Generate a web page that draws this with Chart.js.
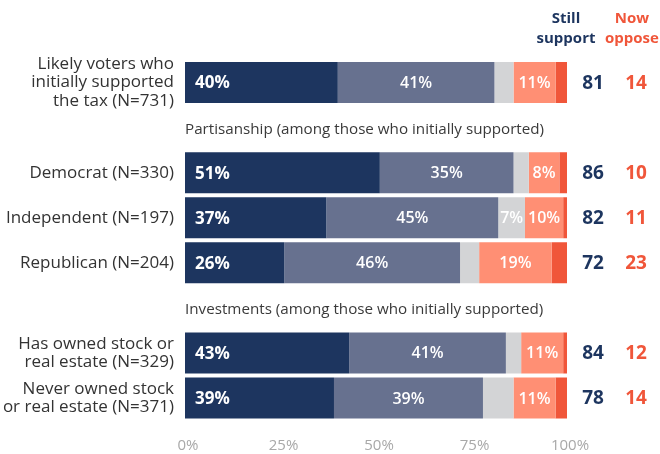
<!DOCTYPE html>
<html>
<head>
<meta charset="utf-8">
<script src="https://cdn.jsdelivr.net/npm/chart.js@4.4.1/dist/chart.umd.min.js"></script>
<style>
  html, body { margin: 0; padding: 0; background: #fff; }
  #chart { display: block; }
</style>
</head>
<body>
<canvas id="chart" width="660" height="454"></canvas>
<script>
// rows, with blank slots where the group headings sit
const categories = [
  ['Likely voters who', 'initially supported', 'the tax (N=731)'],
  '',
  'Democrat (N=330)',
  'Independent (N=197)',
  'Republican (N=204)',
  '',
  ['Has owned stock or', 'real estate (N=329)'],
  ['Never owned stock', 'or real estate (N=371)']
];

const strongSupport = [40, null, 51, 37, 26, null, 43, 39];
const someSupport   = [41, null, 35, 45, 46, null, 41, 39];
const dontKnow      = [5,  null, 4,  7,  5,  null, 4,  8];
const someOppose    = [11, null, 8,  10, 19, null, 11, 11];
const strongOppose  = [3,  null, 2,  1,  4,  null, 1,  3];

const stillSupport = [81, null, 86, 82, 72, null, 84, 78];
const nowOppose    = [14, null, 10, 11, 23, null, 12, 14];

// which "don't know" segments get a percent label
const showDontKnow = [false, false, false, true, false, false, false, false];

const groupHeadings = [
  { index: 1, text: 'Partisanship (among those who initially supported)' },
  { index: 5, text: 'Investments (among those who initially supported)' }
];

const xTicks = [0, 25, 50, 75, 100];

const NAVY = '#1d355f';
const SLATE = '#67718f';
const GREY = '#d3d4d6';
const SALMON = '#ff8f74';
const RED = '#f0563a';
const FONT = "'Open Sans', sans-serif";

const overlay = {
  id: 'overlay',
  afterDatasetsDraw(chart) {
    const { ctx, chartArea, scales: { y } } = chart;
    ctx.save();
    ctx.textBaseline = 'middle';

    // percent labels inside the segments
    chart.data.datasets.forEach((ds, di) => {
      const meta = chart.getDatasetMeta(di);
      meta.data.forEach((bar, i) => {
        const v = ds.data[i];
        if (v == null) return;
        const { x, base, y: cy } = bar.getProps(['x', 'base', 'y'], true);
        ctx.fillStyle = '#fff';
        if (di === 0) {
          ctx.font = `700 17px ${FONT}`;
          ctx.textAlign = 'left';
          ctx.fillText(v + '%', base + 10, cy + 1);
        } else if (di === 1 || di === 3 || (di === 2 && showDontKnow[i])) {
          ctx.font = `600 16px ${FONT}`;
          ctx.textAlign = 'center';
          ctx.fillText(v + '%', (x + base) / 2, cy + 1);
        }
      });
    });

    // group headings in the blank rows
    ctx.fillStyle = '#3a3a3a';
    ctx.font = `400 15.2px ${FONT}`;
    ctx.textAlign = 'left';
    groupHeadings.forEach(h => {
      ctx.fillText(h.text, chartArea.left, y.getPixelForValue(h.index) + 2);
    });

    // column headers
    ctx.textAlign = 'center';
    ctx.font = `700 15px ${FONT}`;
    ctx.fillStyle = NAVY;
    ctx.fillText('Still', 566, 19);
    ctx.fillText('support', 566, 39);
    ctx.fillStyle = RED;
    ctx.fillText('Now', 632, 19);
    ctx.fillText('oppose', 632, 39);

    // totals
    ctx.font = `700 19px ${FONT}`;
    categories.forEach((c, i) => {
      if (stillSupport[i] == null) return;
      const cy = y.getPixelForValue(i) + 1;
      ctx.fillStyle = NAVY;
      ctx.fillText(stillSupport[i], 593, cy);
      ctx.fillStyle = RED;
      ctx.fillText(nowOppose[i], 636, cy);
    });
    ctx.restore();
  }
};

const seg = (label, data, color) => ({
  label, data,
  backgroundColor: color,
  borderWidth: 0,
  barPercentage: 0.91,
  categoryPercentage: 1
});

// fixed axis sizes, no extra padding from tick labels
const fixSize = (w, h) => s => {
  if (w != null) s.width = w;
  if (h != null) s.height = h;
  s.paddingTop = s.paddingBottom = s.paddingLeft = s.paddingRight = 0;
};

new Chart(document.getElementById('chart'), {
  type: 'bar',
  data: {
    labels: categories,
    datasets: [
      seg('Strongly support', strongSupport, NAVY),
      seg('Somewhat support', someSupport, SLATE),
      seg("Don't know", dontKnow, GREY),
      seg('Somewhat oppose', someOppose, SALMON),
      seg('Strongly oppose', strongOppose, RED)
    ]
  },
  options: {
    indexAxis: 'y',
    responsive: false,
    animation: false,
    layout: { autoPadding: false, padding: { top: 60, right: 93, bottom: 0, left: 0 } },
    plugins: {
      legend: { display: false },
      tooltip: { enabled: false }
    },
    scales: {
      x: {
        stacked: true,
        min: 0, max: 100,
        grid: { display: false, drawTicks: false },
        border: { display: false },
        afterFit: fixSize(null, 33.5),
        afterBuildTicks: s => { s.ticks = xTicks.map(v => ({ value: v })); },
        ticks: {
          color: '#a8a8a8',
          font: { family: FONT, size: 15 },
          padding: 16.5,
          labelOffset: 3,
          maxRotation: 0,
          callback: v => v + '%'
        }
      },
      y: {
        stacked: true,
        grid: { display: false, drawTicks: false },
        border: { display: false },
        afterFit: fixSize(185, null),
        ticks: {
          autoSkip: false,
          color: '#333',
          font: { family: FONT, size: 17, lineHeight: 1.08 },
          padding: 11
        }
      }
    }
  },
  plugins: [overlay]
});
</script>
</body>
</html>
